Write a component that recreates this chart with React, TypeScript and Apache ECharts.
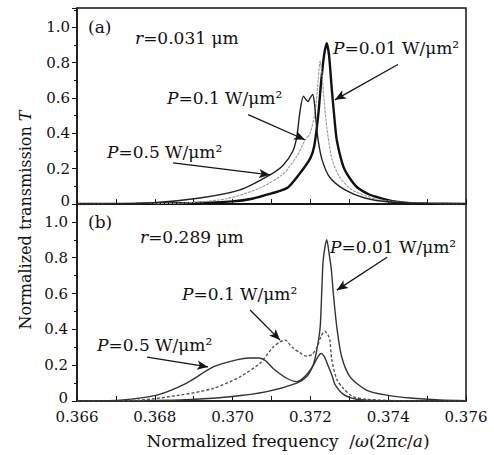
import React, { useEffect, useRef } from 'react';
import * as echarts from 'echarts';

// ---------- axis settings ----------
const xMin = 0.366;
const xMax = 0.376;
const xStep = 0.001;
const yStep = 0.2;
const yMaxA = 1.11;
const yMaxB = 1.1;

// ---------- panel (a): r = 0.031 um ----------
const fA001 = [0.366, 0.3675, 0.369, 0.37, 0.3705, 0.371, 0.3714, 0.3717, 0.372, 0.3721, 0.3722, 0.37228, 0.37235, 0.37242, 0.37248, 0.37255, 0.37262, 0.37268, 0.37285, 0.373, 0.3732, 0.3735, 0.3737, 0.374, 0.3742, 0.3745, 0.375, 0.376];
const tA001 = [0, 0.002, 0.006, 0.015, 0.03, 0.06, 0.09, 0.165, 0.26, 0.33, 0.5, 0.7, 0.84, 0.91, 0.84, 0.65, 0.48, 0.36, 0.21, 0.15, 0.095, 0.055, 0.04, 0.022, 0.013, 0.006, 0.003, 0];

const fA01 = [0.366, 0.368, 0.36872, 0.36985, 0.3707, 0.3713, 0.37165, 0.37186, 0.37199, 0.37212, 0.3722, 0.37225, 0.3723, 0.37235, 0.37243, 0.37256, 0.37276, 0.37307, 0.37366, 0.3743, 0.37533, 0.376];
const tA01 = [0, 0.003, 0.005, 0.03, 0.09, 0.17, 0.27, 0.36, 0.4, 0.52, 0.7, 0.81, 0.73, 0.59, 0.42, 0.25, 0.15, 0.08, 0.03, 0.011, 0.002, 0];

const fA05 = [0.366, 0.36788, 0.36916, 0.37019, 0.37096, 0.3713, 0.37155, 0.37165, 0.37173, 0.37182, 0.37189, 0.37194, 0.37199, 0.37206, 0.37211, 0.37214, 0.3722, 0.3723, 0.3725, 0.37289, 0.3734, 0.37405, 0.37507, 0.376];
const tA05 = [0, 0.006, 0.034, 0.08, 0.165, 0.22, 0.3, 0.38, 0.52, 0.61, 0.59, 0.58, 0.6, 0.62, 0.56, 0.48, 0.36, 0.25, 0.15, 0.08, 0.034, 0.011, 0.002, 0];

// ---------- panel (b): r = 0.289 um ----------
const fB001 = [0.366, 0.36865, 0.36993, 0.37088, 0.37165, 0.3719, 0.37207, 0.37216, 0.37225, 0.37229, 0.37233, 0.37242, 0.37249, 0.37254, 0.37259, 0.37268, 0.3728, 0.37302, 0.37345, 0.37396, 0.37456, 0.37533, 0.376];
const tB001 = [0, 0.006, 0.024, 0.052, 0.1, 0.135, 0.2, 0.28, 0.41, 0.6, 0.79, 0.9, 0.81, 0.73, 0.6, 0.41, 0.25, 0.135, 0.06, 0.033, 0.017, 0.006, 0.002];

const fB01 = [0.366, 0.36762, 0.36865, 0.3695, 0.37019, 0.3707, 0.37104, 0.37122, 0.37135, 0.37153, 0.37173, 0.37191, 0.37204, 0.37217, 0.37227, 0.37237, 0.37245, 0.3725, 0.37255, 0.37268, 0.37285, 0.3731, 0.37353, 0.3743, 0.376];
const tB01 = [0, 0.005, 0.033, 0.07, 0.135, 0.21, 0.3, 0.33, 0.34, 0.3, 0.27, 0.25, 0.26, 0.3, 0.36, 0.39, 0.37, 0.34, 0.23, 0.12, 0.07, 0.024, 0.008, 0.002, 0];

const fB05 = [0.366, 0.3671, 0.36805, 0.36882, 0.3695, 0.3701, 0.37045, 0.37068, 0.37085, 0.37105, 0.37139, 0.37165, 0.37185, 0.37205, 0.37215, 0.37227, 0.37235, 0.37245, 0.37256, 0.37263, 0.37285, 0.37319, 0.37379, 0.376];
const tB05 = [0, 0.005, 0.033, 0.1, 0.19, 0.23, 0.24, 0.24, 0.225, 0.18, 0.127, 0.108, 0.135, 0.19, 0.23, 0.265, 0.25, 0.2, 0.14, 0.093, 0.037, 0.01, 0.002, 0];

// ---------- annotation arrows: [fromX, fromY, toX, toY] in data units ----------
const arrowsA = [
  [0.37425, 0.79, 0.37263, 0.59],
  [0.3704, 0.506, 0.37186, 0.364],
  [0.36847, 0.233, 0.37096, 0.165],
];
const arrowsB = [
  [0.37397, 0.803, 0.37268, 0.619],
  [0.37045, 0.508, 0.37122, 0.34],
  [0.3678, 0.245, 0.36937, 0.19],
];

const pair = (f: number[], t: number[]) => f.map((v, i) => [v, t[i]]);

const FONT = '"DejaVu Serif", "Liberation Serif", serif';

const arrowMark = (arr: number[][]) => ({
  silent: true,
  animation: false,
  symbol: ['none', 'arrow'],
  symbolSize: [7, 11],
  lineStyle: { color: '#151515', width: 1.3, type: 'solid' },
  label: { show: false },
  emphasis: { disabled: true },
  data: arr.map((a) => [{ coord: [a[0], a[1]] }, { coord: [a[2], a[3]] }]),
});

const yLabelFmt = (v: number) => (v > 1.05 ? '' : v === 0 ? '{z|0}' : v.toFixed(1));
const xLabelFmt = (v: number) => {
  const k = Math.round(v * 1000);
  return k % 2 === 0 ? (k / 1000).toFixed(3) : '';
};

const richStyle = (size: number) => ({
  i: { fontStyle: 'italic', fontSize: size, fontFamily: FONT, fill: '#111' },
  n: { fontSize: size, fontFamily: FONT, fill: '#111' },
});

const ann = (x: number, y: number, text: string) => ({
  type: 'text',
  x,
  y,
  silent: true,
  style: {
    text,
    fill: '#111',
    font: `17px ${FONT}`,
    textVerticalAlign: 'middle',
    rich: richStyle(17),
  },
});

export default function App() {
  const ref = useRef<HTMLDivElement>(null);
  useEffect(() => {
    if (!ref.current) return;
    const chart = echarts.init(ref.current, null, { renderer: 'svg' });
    const xAxisBase = {
      type: 'value',
      min: xMin,
      max: xMax,
      interval: xStep,
      axisLine: { show: true, lineStyle: { color: '#151515', width: 1.5 } },
      axisTick: { show: true, inside: true, length: 5, lineStyle: { color: '#151515', width: 1 } },
      splitLine: { show: false },
    };
    const yAxisBase = {
      type: 'value',
      min: 0,
      interval: yStep,
      axisLine: { show: true, lineStyle: { color: '#151515', width: 1.5 } },
      axisTick: { show: true, inside: false, length: 5, lineStyle: { color: '#151515', width: 1 } },
      minorTick: { show: true, splitNumber: 2, length: 3, lineStyle: { color: '#151515', width: 1 } },
      splitLine: { show: false },
      axisLabel: {
        formatter: yLabelFmt, color: '#111', fontFamily: FONT, fontSize: 15, margin: 7,
        rich: { z: { fontFamily: FONT, fontSize: 15, color: '#111', padding: [0, 0, 6, 0] } },
      },
    };
    chart.setOption({
      animation: false,
      backgroundColor: '#ffffff',
      grid: [
        { left: 77, top: 8, width: 389, height: 196, show: true, borderColor: '#151515', borderWidth: 1.5, backgroundColor: 'transparent' },
        { left: 77, top: 204, width: 389, height: 197, show: true, borderColor: '#151515', borderWidth: 1.5, backgroundColor: 'transparent' },
      ],
      xAxis: [
        { ...xAxisBase, gridIndex: 0, axisLabel: { show: false } },
        { ...xAxisBase, gridIndex: 1, axisLabel: { formatter: xLabelFmt, color: '#111', fontFamily: FONT, fontSize: 15, margin: 8 } },
      ],
      yAxis: [
        { ...yAxisBase, gridIndex: 0, max: yMaxA },
        { ...yAxisBase, gridIndex: 1, max: yMaxB, axisLabel: { ...yAxisBase.axisLabel, margin: 9 } },
      ],
      series: [
        {
          type: 'line', xAxisIndex: 0, yAxisIndex: 0, data: pair(fA001, tA001), symbol: 'none', smooth: 0.25,
          lineStyle: { color: '#111', width: 2.4 }, markLine: arrowMark(arrowsA),
        },
        {
          type: 'line', xAxisIndex: 0, yAxisIndex: 0, data: pair(fA01, tA01), symbol: 'none', smooth: 0.25,
          lineStyle: { color: '#9a9a9a', width: 1.1, type: [3, 1] },
        },
        {
          type: 'line', xAxisIndex: 0, yAxisIndex: 0, data: pair(fA05, tA05), symbol: 'none', smooth: 0.25,
          lineStyle: { color: '#222', width: 1.4 },
        },
        {
          type: 'line', xAxisIndex: 1, yAxisIndex: 1, data: pair(fB001, tB001), symbol: 'none', smooth: 0.25,
          lineStyle: { color: '#333', width: 1.4 }, markLine: arrowMark(arrowsB),
        },
        {
          type: 'line', xAxisIndex: 1, yAxisIndex: 1, data: pair(fB01, tB01), symbol: 'none', smooth: 0.25,
          lineStyle: { color: '#555', width: 1.4, type: [3, 2] },
        },
        {
          type: 'line', xAxisIndex: 1, yAxisIndex: 1, data: pair(fB05, tB05), symbol: 'none', smooth: 0.25,
          lineStyle: { color: '#333', width: 1.4 },
        },
      ],
      graphic: [
        ann(88, 27, '{n|(a)}'),
        ann(135, 38, '{i|r}{n|=0.031 μm}'),
        ann(333, 48, '{i|P}{n|=0.01 W/μm²}'),
        ann(167, 98, '{i|P}{n|=0.1 W/μm²}'),
        ann(107, 152, '{i|P}{n|=0.5 W/μm²}'),
        ann(88, 222, '{n|(b)}'),
        ann(140, 237, '{i|r}{n|=0.289 μm}'),
        ann(330, 247, '{i|P}{n|=0.01 W/μm²}'),
        ann(182, 294, '{i|P}{n|=0.1 W/μm²}'),
        ann(97, 345, '{i|P}{n|=0.5 W/μm²}'),
        {
          type: 'text', x: 288, y: 441, silent: true,
          style: {
            text: '{n|Normalized frequency  /}{i|ω}{n|(2π}{i|c}{n|/}{i|a}{n|)}',
            textAlign: 'center', textVerticalAlign: 'middle',
            rich: richStyle(17),
          },
        },
        {
          type: 'text', x: 25, y: 220, rotation: Math.PI / 2, silent: true,
          style: {
            text: '{n|Normalized transmission }{i|T}',
            textAlign: 'center', textVerticalAlign: 'middle',
            rich: richStyle(16),
          },
        },
      ],
    });
    return () => chart.dispose();
  }, []);
  return <div ref={ref} style={{ position: 'fixed', left: 0, top: 0, width: 494, height: 455 }} />;
}
